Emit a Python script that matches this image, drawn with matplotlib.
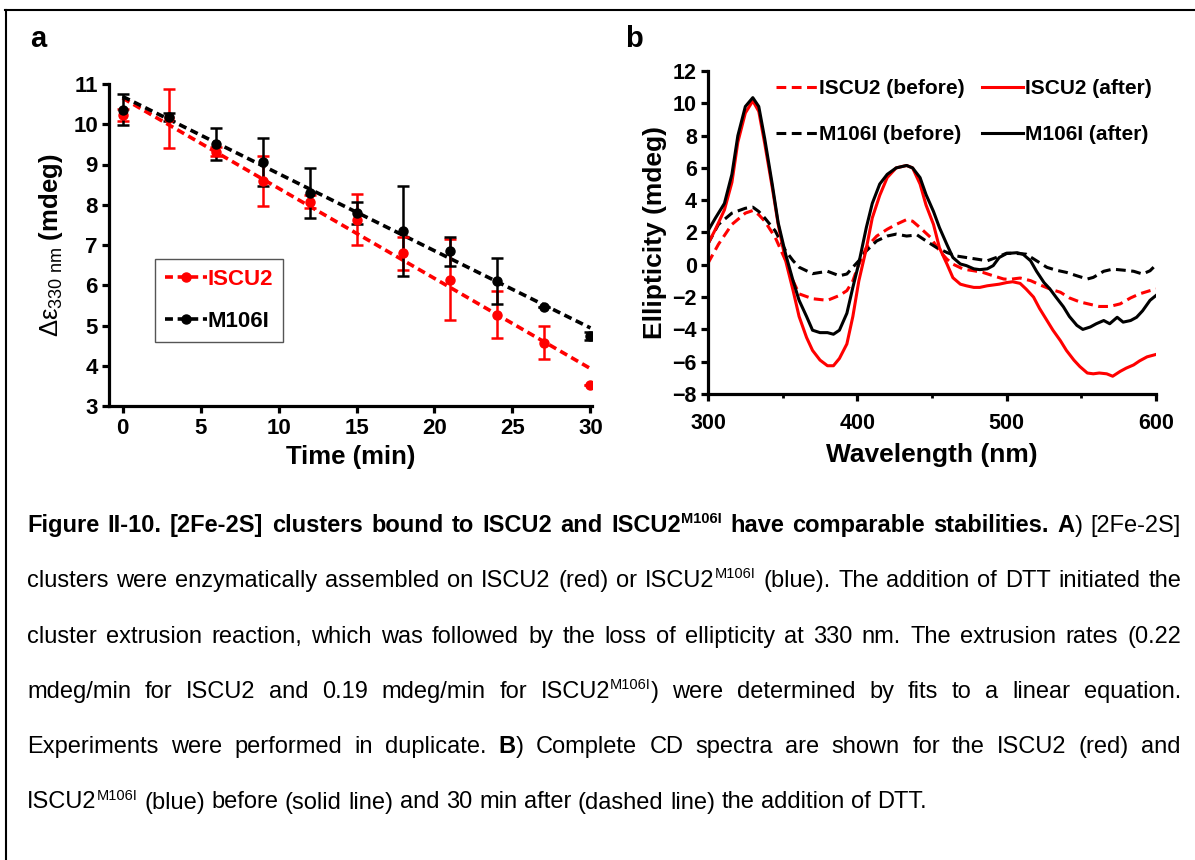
import numpy as np
import matplotlib.pyplot as plt
from matplotlib.lines import Line2D

plt.rcParams['font.family'] = ['Liberation Sans', 'DejaVu Sans']
plt.rcParams['mathtext.fontset'] = 'custom'
plt.rcParams['mathtext.rm'] = 'Liberation Sans'
plt.rcParams['mathtext.bf'] = 'Liberation Sans:bold'
plt.rcParams['mathtext.it'] = 'Liberation Sans:italic'

## ---- panel a data: loss of ellipticity at 330 nm
time_min = [0, 3, 6, 9, 12, 15, 18, 21, 24, 27, 30]
iscu2_mean = [10.23, 10.15, 9.32, 8.58, 8.08, 7.63, 6.79, 6.14, 5.27, 4.57, 3.51]
iscu2_err = [0.15, 0.73, 0.12, 0.62, 0.15, 0.63, 0.40, 1.00, 0.58, 0.41, 0.0]
m106i_mean = [10.36, 10.17, 9.51, 9.07, 8.30, 7.79, 7.34, 6.84, 6.10, 5.46, 4.74]
m106i_err = [0.38, 0.10, 0.39, 0.60, 0.62, 0.28, 1.12, 0.37, 0.57, 0.0, 0.10]
fit_time = [0, 30]
iscu2_fit = [10.65, 3.93]
m106i_fit = [10.69, 4.94]

## ---- panel b data: CD spectra
wl_m_after = [300, 305, 311, 316, 320, 325, 330, 334, 338, 343, 347, 352, 357, 361, 366, 370, 375, 380,
              384, 388, 393, 397, 401, 406, 410, 415, 420, 426, 433, 437, 442, 446, 451, 455, 460, 464,
              469, 473, 478, 482, 487, 491, 495, 500, 507, 511, 516, 520, 525, 529, 533, 538, 542, 547,
              551, 556, 560, 565, 569, 574, 578, 583, 587, 591, 596, 600]
m_after = [2.1, 2.9, 3.8, 5.6, 8.0, 9.8, 10.35, 9.8, 7.8, 5.0, 2.6, 0.65, -1.0, -2.2, -3.2, -4.05, -4.2, -4.2,
           -4.3, -4.05, -3.0, -1.4, 0.1, 2.3, 3.8, 5.0, 5.6, 6.0, 6.15, 6.0, 5.4, 4.35, 3.3, 2.3, 1.25, 0.45,
           0.05, -0.05, -0.25, -0.3, -0.25, -0.05, 0.45, 0.7, 0.75, 0.65, 0.25, -0.4, -1.1, -1.5, -2.0, -2.6, -3.2, -3.75,
           -4.0, -3.85, -3.65, -3.45, -3.65, -3.25, -3.55, -3.45, -3.25, -2.85, -2.2, -1.9]
wl_i_after = [300, 305, 311, 316, 320, 325, 330, 334, 338, 343, 347, 352, 357, 361, 366, 370, 375, 380,
              384, 388, 393, 397, 401, 406, 410, 415, 420, 426, 433, 437, 442, 446, 451, 455, 460, 464,
              469, 473, 478, 482, 487, 491, 495, 500, 504, 509, 513, 518, 522, 527, 531, 536, 540, 545,
              549, 554, 558, 562, 567, 571, 576, 580, 585, 589, 594, 600]
i_after = [1.3, 2.2, 3.4, 5.1, 7.6, 9.4, 10.15, 9.5, 7.5, 4.8, 2.5, 0.25, -1.6, -3.2, -4.5, -5.3, -5.9, -6.25,
           -6.25, -5.8, -4.9, -3.2, -1.0, 1.0, 2.9, 4.3, 5.4, 6.0, 6.15, 6.0, 5.0, 3.7, 2.5, 1.05, 0.05, -0.8,
           -1.2, -1.3, -1.4, -1.4, -1.3, -1.25, -1.2, -1.1, -1.05, -1.15, -1.5, -2.0, -2.7, -3.45, -4.05, -4.7, -5.3, -5.9,
           -6.3, -6.7, -6.75, -6.7, -6.75, -6.9, -6.6, -6.4, -6.2, -5.95, -5.7, -5.55]
wl_m_before = [300, 307, 316, 325, 330, 334, 338, 345, 352, 357, 361, 370, 380, 388, 393, 397, 401, 406,
               413, 420, 426, 433, 440, 446, 453, 460, 466, 473, 480, 487, 493, 500, 507, 513, 520, 527,
               533, 540, 547, 554, 558, 565, 571, 578, 585, 591, 596, 600]
m_before = [1.3, 2.5, 3.2, 3.5, 3.57, 3.3, 2.9, 2.1, 0.86, 0.25, -0.15, -0.55, -0.4, -0.68, -0.57, -0.15, 0.25, 0.86,
            1.48, 1.78, 1.9, 1.78, 1.85, 1.48, 1.07, 0.76, 0.55, 0.45, 0.35, 0.25, 0.45, 0.72, 0.7, 0.66, 0.25, -0.16,
            -0.33, -0.47, -0.68, -0.88, -0.78, -0.4, -0.27, -0.33, -0.4, -0.57, -0.37, 0.0]
wl_i_before = [300, 307, 316, 325, 330, 334, 338, 345, 352, 357, 361, 370, 380, 388, 393, 397, 400, 406,
               413, 420, 426, 433, 437, 442, 449, 455, 460, 464, 471, 478, 484, 491, 498, 502, 509, 516,
               522, 529, 536, 542, 549, 556, 562, 569, 576, 583, 589, 596, 600]
i_before = [0.1, 1.27, 2.5, 3.2, 3.36, 3.1, 2.7, 1.7, 0.25, -1.0, -1.8, -2.1, -2.2, -1.9, -1.6, -1.0, -0.2, 1.07,
            1.78, 2.2, 2.5, 2.8, 2.7, 2.3, 1.7, 0.86, 0.35, 0.04, -0.27, -0.37, -0.47, -0.68, -0.88, -0.9, -0.82, -0.98,
            -1.23, -1.5, -1.7, -2.05, -2.3, -2.45, -2.58, -2.58, -2.42, -2.05, -1.8, -1.6, -1.5]

## ---- caption ( * toggles bold, ^ toggles superscript )
caption_lines = [
    "*Figure II-10. [2Fe-2S] clusters bound to ISCU2 and ISCU2^M106I^ have comparable stabilities. A*) [2Fe-2S]",
    "clusters were enzymatically assembled on ISCU2 (red) or ISCU2^M106I^ (blue).  The addition of DTT initiated the",
    "cluster extrusion reaction, which was followed by the loss of ellipticity at 330 nm. The extrusion rates (0.22",
    "mdeg/min for ISCU2 and 0.19 mdeg/min for ISCU2^M106I^) were determined by fits to a linear equation.",
    "Experiments were performed in duplicate. *B*) Complete CD spectra are shown for the ISCU2 (red) and",
    "ISCU2^M106I^ (blue) before (solid line) and 30 min after (dashed line) the addition of DTT.",
]

W, H = 1195, 860
fig = plt.figure(figsize=(W / 100, H / 100), dpi=100)

## frame around the figure
fig.add_artist(Line2D([5 / W, 1], [1 - 9.5 / H] * 2, color='k', lw=1.5))
fig.add_artist(Line2D([5.5 / W] * 2, [0, 1 - 9.5 / H], color='k', lw=1.5))


def style_axes(ax, lsize, xpad):
    for s in ['top', 'right']:
        ax.spines[s].set_visible(False)
    for s in ['left', 'bottom']:
        ax.spines[s].set_linewidth(2.3)
    ax.tick_params(which='major', direction='out', length=5, width=2.3, labelsize=lsize, pad=3)
    ax.tick_params(axis='x', which='major', pad=xpad)
    ax.tick_params(which='minor', direction='out', length=3, width=2.0)
    for lab in ax.get_xticklabels() + ax.get_yticklabels():
        lab.set_fontweight('bold')


## ---------------- panel a
axa = fig.add_axes([109 / W, 1 - 406 / H, 483 / W, 322 / H])
axa.plot(fit_time, iscu2_fit, color='red', ls=(0, (2.2, 1.3)), lw=2.6)
axa.plot(fit_time, m106i_fit, color='black', ls=(0, (2.2, 1.3)), lw=2.6)
axa.errorbar(time_min, iscu2_mean, yerr=iscu2_err, fmt='o', color='red', ms=6.5,
             elinewidth=1.8, capsize=4, capthick=1.8)
axa.errorbar(time_min, m106i_mean, yerr=m106i_err, fmt='o', color='black', ms=6.5,
             elinewidth=1.8, capsize=4, capthick=1.8)
axa.set_xlim(-0.87, 30.1)
axa.set_ylim(3, 11)
axa.set_xticks(range(0, 31, 5))
axa.set_yticks(range(3, 12))
style_axes(axa, 16, 4)
axa.set_xlabel('Time (min)', fontsize=18.5, fontweight='bold', labelpad=4)
axa.set_ylabel(r'$\mathrm{\Delta\varepsilon}_{\mathrm{330\ nm}}$ (mdeg)', fontsize=18.5,
               fontweight='bold', labelpad=6)
hnd = [Line2D([], [], color='red', ls=(0, (2.2, 1.3)), lw=2.6, marker='o', ms=6.5),
       Line2D([], [], color='black', ls=(0, (2.2, 1.3)), lw=2.6, marker='o', ms=6.5)]
lega = axa.legend(hnd, ['ISCU2', 'M106I'], loc='lower left', bbox_to_anchor=(0.095, 0.199),
                  borderaxespad=0, fancybox=False, edgecolor='#555555', framealpha=1,
                  handlelength=1.9, handletextpad=0.0, labelspacing=0.95, borderpad=0.45,
                  prop={'size': 16, 'weight': 'bold'}, labelcolor='linecolor')
lega.get_frame().set_linewidth(1.0)

## ---------------- panel b
axb = fig.add_axes([708 / W, 1 - 394 / H, 448 / W, 323 / H])
dash = (0, (3.2, 1.8))
axb.plot(wl_i_before, i_before, color='red', ls=dash, lw=2.2, label='ISCU2 (before)')
axb.plot(wl_m_before, m_before, color='black', ls=dash, lw=2.2, label='M106I (before)')
axb.plot(wl_i_after, i_after, color='red', lw=2.2, label='ISCU2 (after)')
axb.plot(wl_m_after, m_after, color='black', lw=2.2, label='M106I (after)')
axb.set_xlim(300, 600)
axb.set_ylim(-8, 12)
axb.set_xticks([300, 400, 500, 600])
axb.set_xticks([350, 450, 550], minor=True)
axb.set_yticks(range(-8, 13, 2))
style_axes(axb, 15.5, 9)
axb.set_xlabel('Wavelength (nm)', fontsize=19, fontweight='bold', labelpad=6)
axb.set_ylabel('Ellipticity (mdeg)', fontsize=19, fontweight='bold', labelpad=4)
axb.legend(loc='upper right', bbox_to_anchor=(1.01, 1.0), ncol=2, frameon=False, borderaxespad=0,
           handlelength=2.0, handletextpad=0.1, columnspacing=0.8, labelspacing=1.3,
           prop={'size': 15, 'weight': 'bold'})

## panel letters
fig.text(30 / W, 1 - 47 / H, 'a', fontsize=21, fontweight='bold', va='baseline')
fig.text(625 / W, 1 - 47 / H, 'b', fontsize=21, fontweight='bold', va='baseline')


## ---------------- justified caption
def parse(line):
    words, cur, buf = [], [], ''
    bold = sup = False
    for ch in line + ' ':
        if ch in '*^ ':
            if buf:
                cur.append((buf, bold, sup))
                buf = ''
            if ch == '*':
                bold = not bold
            elif ch == '^':
                sup = not sup
            elif cur:
                words.append(cur)
                cur = []
        else:
            buf += ch
    return words


cap_size = 17
left, right = 27, 1181
base0, step = 532, 55.3
renderer = fig.canvas.get_renderer()
for i, line in enumerate(caption_lines):
    yb = 1 - (base0 + i * step) / H
    words = parse(line)
    placed = []
    for w in words:
        runs = []
        for txt, b, s in w:
            t = fig.text(0, yb + (9 / H if s else 0), txt, fontsize=cap_size * 0.62 if s else cap_size,
                         fontweight='bold' if b else 'normal', va='baseline', ha='left')
            runs.append((t, t.get_window_extent(renderer).width))
        placed.append(runs)
    widths = [sum(r[1] for r in runs) for runs in placed]
    if i < len(caption_lines) - 1:
        gap = (right - left - sum(widths)) / (len(placed) - 1)
    else:
        sp = fig.text(0, 0, 'a a', fontsize=cap_size)
        sp2 = fig.text(0, 0, 'aa', fontsize=cap_size)
        gap = sp.get_window_extent(renderer).width - sp2.get_window_extent(renderer).width
        sp.remove()
        sp2.remove()
    x = left
    for runs in placed:
        for t, wd in runs:
            t.set_x(x / W)
            x += wd
        x += gap

fig.savefig('out.png', dpi=100)
